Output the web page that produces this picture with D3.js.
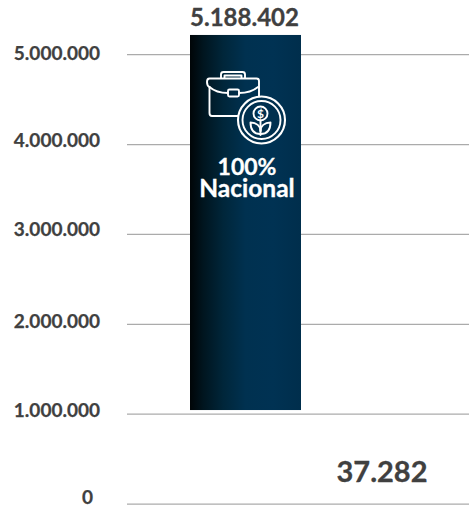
<!DOCTYPE html>
<html><head><meta charset="utf-8">
<script src="https://cdn.jsdelivr.net/npm/d3@7"></script>
<style>html,body{margin:0;padding:0;background:#fff}svg{display:block}text{font-family:Lato,sans-serif;font-weight:700}</style>
</head><body><div id="c"></div>
<script>
const tickValues = [0,1000000,2000000,3000000,4000000,5000000];
const tickLabels = ["0","1.000.000","2.000.000","3.000.000","4.000.000","5.000.000"];
const categories = ["Nacional","Extranjero"];
const valueLabels = ["5.188.402","37.282"];
// visible extent of the bar (the axis is broken at the base)
const barBottoms = [1041000];
const barTops = [5214000];
const labelValues = [5313000,240000];

const W=469,H=506;
const svg=d3.select("#c").append("svg").attr("width",W).attr("height",H);
const y=d3.scaleLinear().domain([0,5000000]).range([503.6,54.2]);
const x=d3.scalePoint().domain(categories).range([245.5,382]);
const bw=111;
const tickShift={0:-3.5,1000000:-0.7,2000000:0,3000000:-2,4000000:-1,5000000:1.5};

const defs=svg.append("defs");
const g=defs.append("linearGradient").attr("id","bg");
[[0,"#000507"],[0.12,"#00151f"],[0.3,"#00263a"],[0.5,"#003150"],[0.75,"#003253"],[1,"#002e4c"]]
 .forEach(s=>g.append("stop").attr("offset",s[0]).attr("stop-color",s[1]));

const yAxis=d3.axisLeft(y).tickValues(tickValues).tickFormat((d,i)=>tickLabels[i]).tickSize(0);
const ax=svg.append("g").attr("transform","translate(127,0)").call(yAxis);
ax.select(".domain").remove();
ax.selectAll("line").attr("x2",342).attr("stroke","#ababab").attr("stroke-width",1.3);
ax.selectAll("text").attr("x",d=>d===0?-34:-27).attr("dy","0.2em")
  .attr("transform",d=>`translate(0,${tickShift[d]})`)
  .attr("fill","#404040").attr("stroke","#404040").attr("stroke-width",0.25)
  .style("font-size","19px").style("font-family","Lato,sans-serif").style("font-weight",700);

svg.selectAll("rect.bar").data(barTops).join("rect").attr("class","bar")
 .attr("x",(d,i)=>x(categories[i])-bw/2).attr("width",bw)
 .attr("y",d=>y(d)).attr("height",(d,i)=>y(barBottoms[i])-y(d)).attr("fill","url(#bg)");

svg.selectAll("text.val").data(valueLabels).join("text").attr("class","val")
 .attr("x",(d,i)=>x(categories[i])).attr("dx",(d,i)=>i?0:-1).attr("y",(d,i)=>y(labelValues[i]))
 .attr("text-anchor","middle").attr("fill","#404040").attr("stroke","#404040").attr("stroke-width",0.3)
 .style("font-size",(d,i)=>i?"29px":"24px").text(d=>d);

svg.append("text").attr("x",247).attr("y",175).attr("text-anchor","middle").attr("fill","#fff").attr("stroke","#fff").attr("stroke-width",0.3).style("font-size","23px").text("100%");
svg.append("text").attr("x",247).attr("y",197).attr("text-anchor","middle").attr("fill","#fff").attr("stroke","#fff").attr("stroke-width",0.3).style("font-size","24.500px").text("Nacional");

// icon
const ic=svg.append("g").attr("fill","none").attr("stroke","#fff").attr("stroke-width",1.9).attr("stroke-linecap","round").attr("stroke-linejoin","round");
ic.append("path").attr("d","M221 78V74.500Q221 72 223.500 72H242.500Q245 72 245 74.500V78");
ic.append("path").attr("d","M224.500 78V75.500H241.500V78");
ic.append("path").attr("d","M238 116H212Q209.500 116 209.500 113V87");
ic.append("path").attr("d","M209.500 87C207.500 86 207 84.500 207 82Q207 78.500 209.500 78.500H256.500Q259 78.500 259 81V98");
ic.append("path").attr("d","M209.500 87C214 91 220 93 228 93M239 93C246 93 252 92 258 87");
ic.append("rect").attr("x",228).attr("y",89.500).attr("width",11).attr("height",7).attr("rx",1.500);
ic.append("circle").attr("cx",261.500).attr("cy",120).attr("r",23.500).attr("fill","#00304f").attr("stroke-width",2.100);
ic.append("circle").attr("cx",261.500).attr("cy",120).attr("r",19);
ic.append("circle").attr("cx",260.500).attr("cy",113.500).attr("r",7);
ic.append("path").attr("d","M260.500 120.500V135");
ic.append("path").attr("d","M260.500 134C253 134 250.500 129 250.500 122.500C256.500 122.500 260.500 126 260.500 131");
ic.append("path").attr("d","M260.500 134C268 134 270.500 129 270.500 122.500C264.500 122.500 260.500 126 260.500 131");
svg.append("text").attr("x",260.500).attr("y",118).attr("text-anchor","middle").attr("fill","#fff").style("font-size","12px").text("$");
</script></body></html>
